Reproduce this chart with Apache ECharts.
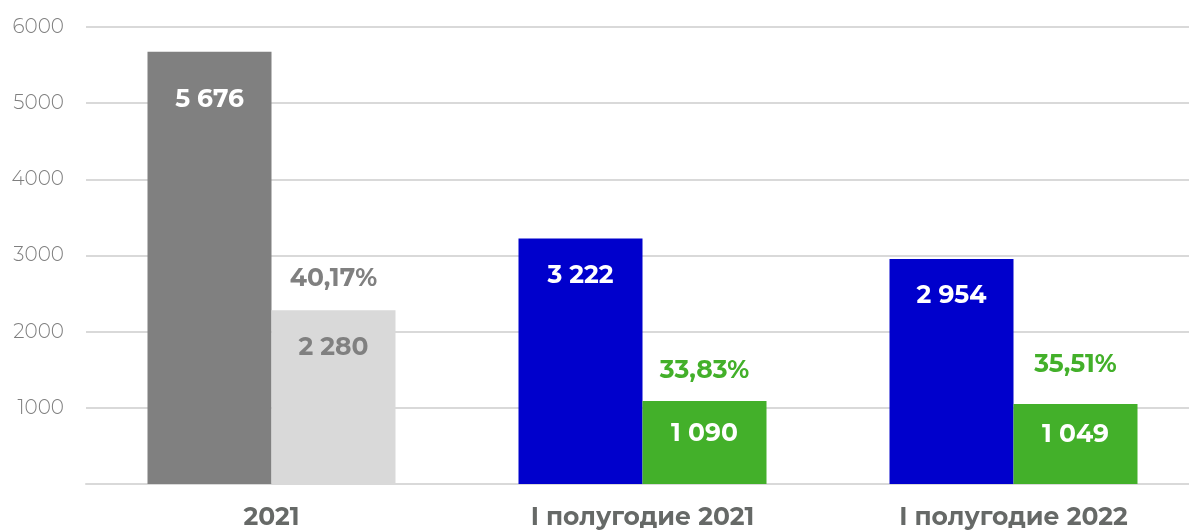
<!DOCTYPE html>
<html>
<head>
<meta charset="utf-8">
<script src="https://cdn.jsdelivr.net/npm/echarts@6/dist/echarts.min.js"></script>
<style>
html,body{margin:0;padding:0;background:#fff;overflow:hidden;width:1189px;height:532px;}
#chart{width:1199px;height:532px;}
</style>
</head>
<body>
<div id="chart"></div>
<script>
// ---- data ----
var categories = ['2021', 'I полугодие 2021', 'I полугодие 2022'];
var totalValues = [5676, 3222, 2954];
var partValues = [2280, 1090, 1049];
var shareLabels = ['40,17%', '33,83%', '35,51%'];
var yTicks = [0, 1000, 2000, 3000, 4000, 5000, 6000];

// ---- styling / layout (not data) ----
var totalColors = ['#808080', '#0000cc', '#0000cc'];
var partColors = ['#d9d9d9', '#43b02a', '#43b02a'];
var partTextColors = ['#808080', '#ffffff', '#ffffff'];
var shareColors = ['#808080', '#43b02a', '#43b02a'];
var totalDrop = [48, 37, 37];       // label centre below bar top
var partDrop = [37.5, 32.5, 30.5];
var shareRise = [32, 30, 39];       // share label centre above bar top
var FONT = 'Montserrat, Inter, "Open Sans", sans-serif';

function fmt(v) {
  return String(v).replace(/\B(?=(\d{3})+(?!\d))/g, ' ');
}

var totalData = totalValues.map(function (v, i) {
  return {
    value: v,
    itemStyle: { color: totalColors[i] },
    label: { offset: [0, totalDrop[i] - 15] }
  };
});

var partData = partValues.map(function (v, i) {
  var a = shareRise[i], d = partDrop[i];
  return {
    value: v,
    itemStyle: { color: partColors[i] },
    label: {
      offset: [0, -a - 15],
      formatter: '{p|' + shareLabels[i] + '}\n{s| }\n{v|' + fmt(v) + '}',
      rich: {
        p: { color: shareColors[i], fontSize: 25, fontWeight: 700, lineHeight: 30, fontFamily: FONT, align: 'center' },
        s: { fontSize: 2, lineHeight: d + a - 30 },
        v: { color: partTextColors[i], fontSize: 25, fontWeight: 700, lineHeight: 30, fontFamily: FONT, align: 'center' }
      }
    }
  };
});

var chart = echarts.init(document.getElementById('chart'));
chart.setOption({
  animation: false,
  backgroundColor: '#ffffff',
  grid: { left: 86, right: 0, top: 27, bottom: 48 },
  xAxis: {
    type: 'category',
    data: categories,
    axisTick: { show: false },
    axisLine: { show: true, lineStyle: { color: '#d9d9d9', width: 2 } },
    axisLabel: {
      color: '#666967', fontSize: 25, fontWeight: 700, fontFamily: FONT, margin: 21
    }
  },
  yAxis: {
    type: 'value',
    min: yTicks[0],
    max: yTicks[yTicks.length - 1],
    interval: yTicks[1] - yTicks[0],
    axisLine: { show: false },
    axisTick: { show: false },
    splitLine: { lineStyle: { color: '#d9d9d9', width: 2 } },
    axisLabel: {
      color: '#7f7f7f', fontSize: 20, fontWeight: 300, fontFamily: FONT, margin: 22,
      formatter: function (v) { return v === 0 ? '' : String(v); }
    }
  },
  series: [
    {
      type: 'bar',
      data: totalData,
      barWidth: 124,
      barGap: '0%',
      label: {
        show: true,
        position: 'insideTop',
        distance: 0,
        color: '#ffffff',
        fontSize: 25,
        fontWeight: 700,
        fontFamily: FONT,
        lineHeight: 30,
        formatter: function (p) { return fmt(p.value); }
      }
    },
    {
      type: 'bar',
      data: partData,
      barWidth: 124,
      barGap: '0%',
      label: {
        show: true,
        position: 'insideTop',
        distance: 0
      }
    }
  ]
});
</script>
</body>
</html>
